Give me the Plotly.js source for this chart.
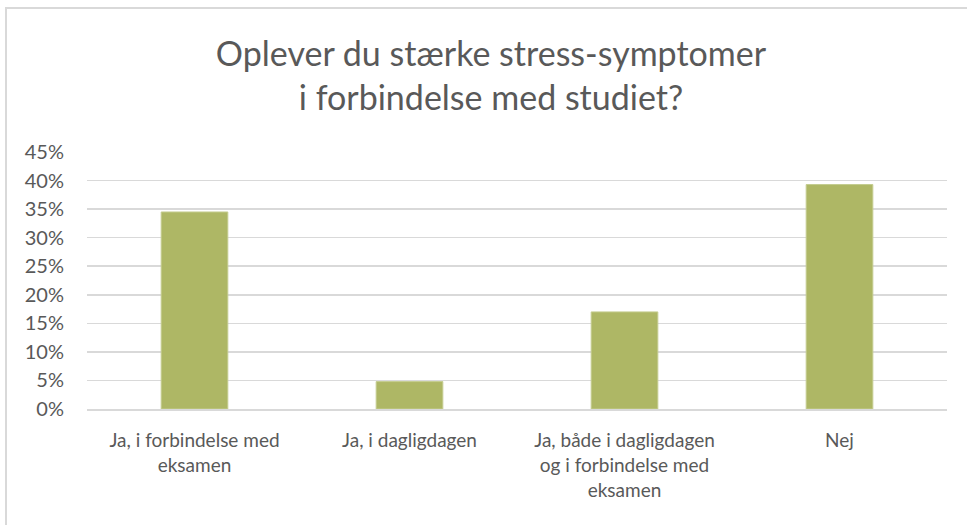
<!DOCTYPE html>
<html>
<head>
<meta charset="utf-8">
<script src="https://cdn.plot.ly/plotly-3.0.1.min.js"></script>
<style>
  html, body { margin: 0; padding: 0; background: #fff; }
  #wrap { position: relative; width: 967px; height: 525px; }
  #chart { width: 967px; height: 525px; }
  #frame { position: absolute; left: 5px; top: 7px; width: 990px; height: 560px;
           border-left: 2px solid #d9d9d9; border-top: 2px solid #d9d9d9; pointer-events: none; }
</style>
</head>
<body>
<div id="wrap">
  <div id="chart"></div>
  <div id="frame"></div>
</div>
<script>
const categories = [
  "Ja, i forbindelse med<br>eksamen",
  "Ja, i dagligdagen",
  "Ja, både i dagligdagen<br>og i forbindelse med<br>eksamen",
  "Nej"
];
const values = [0.345, 0.048, 0.170, 0.393];
const yTickVals = [0, 0.05, 0.10, 0.15, 0.20, 0.25, 0.30, 0.35, 0.40, 0.45];
const yTickText = ["0%", "5%", "10%", "15%", "20%", "25%", "30%", "35%", "40%", "45%"];
const titleText = "Oplever du stærke stress-symptomer<br>i forbindelse med studiet?";

const FONT = "Lato, 'Open Sans', sans-serif";
const TXT = "#595959";

Plotly.newPlot("chart", [{
  type: "bar",
  x: categories,
  y: values,
  marker: { color: "#AEB765", line: { color: "#C4CC8F", width: 1 } },
  hoverinfo: "none"
}], {
  width: 967, height: 525,
  paper_bgcolor: "#fff", plot_bgcolor: "#fff",
  margin: { l: 87, r: 20, t: 152, b: 116 },
  bargap: 0.69,
  showlegend: false,
  font: { family: FONT, color: TXT, size: 20 },
  title: {
    text: titleText,
    font: { family: FONT, size: 34, color: TXT },
    x: 491 / 967, xref: "container", xanchor: "center",
    y: 1 - 66 / 525, yref: "container", yanchor: "top"
  },
  xaxis: {
    type: "category",
    showgrid: false,
    showline: true, linecolor: "#d9d9d9", linewidth: 1.5,
    ticks: "", ticklabelstandoff: 14,
    tickfont: { family: FONT, size: 19, color: TXT },
    fixedrange: true
  },
  yaxis: {
    range: [0, 0.45],
    tickvals: yTickVals, ticktext: yTickText,
    showgrid: true, gridcolor: "#d9d9d9", gridwidth: 1.5,
    zeroline: false, showline: false,
    ticks: "", ticklabelstandoff: 22,
    tickfont: { family: FONT, size: 20, color: TXT },
    fixedrange: true
  }
}, { displayModeBar: false, staticPlot: true });
</script>
</body>
</html>
